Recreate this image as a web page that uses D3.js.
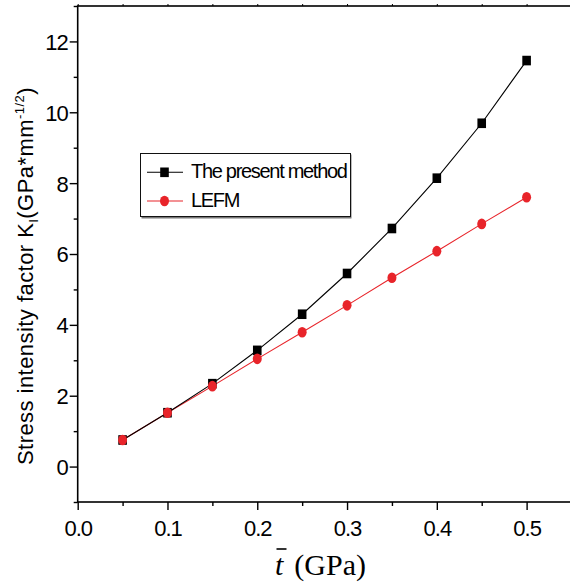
<!DOCTYPE html>
<html>
<head>
<meta charset="utf-8">
<script src="https://cdn.jsdelivr.net/npm/d3@7"></script>
<style>
  html, body { margin: 0; padding: 0; background: #fff; }
  svg { display: block; }
</style>
</head>
<body>
<svg id="chart" width="570" height="587"></svg>
<script>
// Applied load t̄ (GPa)
const loads = [0.05, 0.10, 0.15, 0.20, 0.25, 0.30, 0.35, 0.40, 0.45, 0.50];
// Stress intensity factor K_I from the present method
const presentMethod = [0.75, 1.52, 2.34, 3.28, 4.30, 5.45, 6.72, 8.14, 9.69, 11.46];
// Stress intensity factor K_I from LEFM
const lefm = [0.75, 1.52, 2.27, 3.04, 3.79, 4.55, 5.33, 6.08, 6.85, 7.60];

const xTicks = [0.0, 0.1, 0.2, 0.3, 0.4, 0.5];
const yTicks = [0, 2, 4, 6, 8, 10, 12];
const seriesNames = ["The present method", "LEFM"];

const svg = d3.select("#chart");
const plotLeft = 77.7, plotRight = 571.5, plotTop = 6, plotBottom = 502;

const x = d3.scaleLinear().domain([0, 0.55]).range([plotLeft, plotRight]);
const y = d3.scaleLinear().domain([-1, 13]).range([plotBottom, plotTop]);

const tickFont = "Liberation Sans, Arial, sans-serif";

// Frame
svg.append("rect")
  .attr("x", plotLeft).attr("y", plotTop)
  .attr("width", plotRight - plotLeft).attr("height", plotBottom - plotTop)
  .attr("fill", "none").attr("stroke", "#000").attr("stroke-width", 1.6);

// Bottom axis: major ticks with labels, minor ticks between
const xMinor = d3.range(0.05, 0.55, 0.1);
const xAxis = d3.axisBottom(x).tickValues(xTicks).tickFormat(d3.format(".1f")).tickSize(8).tickSizeOuter(0);
const gx = svg.append("g").attr("transform", `translate(0,${plotBottom})`).call(xAxis);
gx.select(".domain").remove();
gx.selectAll(".tick line").attr("stroke-width", 1.4);
gx.selectAll(".tick text")
  .attr("font-family", tickFont).attr("font-size", 22).attr("letter-spacing", -1)
  .attr("fill", "#000").attr("dy", "1.05em");
svg.append("g").attr("transform", `translate(0,${plotBottom})`)
  .call(d3.axisBottom(x).tickValues(xMinor).tickSize(4).tickFormat(""))
  .call(g => g.select(".domain").remove())
  .selectAll(".tick line").attr("stroke-width", 1.4);

// Top axis: small marks only
svg.append("g").attr("transform", `translate(0,${plotTop})`)
  .call(d3.axisTop(x).tickValues(xTicks.concat(xMinor)).tickSize(2).tickFormat(""))
  .call(g => g.select(".domain").remove())
  .selectAll(".tick line").attr("stroke-width", 1);

// Left axis
const yMinor = d3.range(-1, 13.5, 2);
const yAxis = d3.axisLeft(y).tickValues(yTicks).tickFormat(d3.format("d")).tickSize(8).tickSizeOuter(0);
const gy = svg.append("g").attr("transform", `translate(${plotLeft},0)`).call(yAxis);
gy.select(".domain").remove();
gy.selectAll(".tick line").attr("stroke-width", 1.4);
gy.selectAll(".tick text")
  .attr("font-family", tickFont).attr("font-size", 22).attr("letter-spacing", -1)
  .attr("fill", "#000").attr("x", -10).attr("dy", "0.36em");
svg.append("g").attr("transform", `translate(${plotLeft},0)`)
  .call(d3.axisLeft(y).tickValues(yMinor).tickSize(4).tickFormat(""))
  .call(g => g.select(".domain").remove())
  .selectAll(".tick line").attr("stroke-width", 1.4);

// Series lines and markers
const line = d3.line().x((d, i) => x(loads[i])).y(d => y(d));

svg.append("path").datum(lefm)
  .attr("d", line).attr("fill", "none").attr("stroke", "#e8242a").attr("stroke-width", 1.1);
svg.append("path").datum(presentMethod)
  .attr("d", line).attr("fill", "none").attr("stroke", "#000").attr("stroke-width", 1.1);

svg.append("g").selectAll("rect").data(presentMethod).join("rect")
  .attr("x", (d, i) => x(loads[i]) - 4.3).attr("y", d => y(d) - 4.8)
  .attr("width", 8.6).attr("height", 9.6).attr("fill", "#000");

svg.append("g").selectAll("ellipse").data(lefm).join("ellipse")
  .attr("cx", (d, i) => x(loads[i])).attr("cy", d => y(d))
  .attr("rx", 4.5).attr("ry", 5.3).attr("fill", "#e8242a");

// Legend
const lg = svg.append("g");
lg.append("rect").attr("x", 141.5).attr("y", 154.5).attr("width", 210).attr("height", 64)
  .attr("fill", "#777");
lg.append("rect").attr("x", 140.5).attr("y", 153.5).attr("width", 210).attr("height", 63)
  .attr("fill", "#fff").attr("stroke", "#111").attr("stroke-width", 1);

const legendRows = [
  { name: seriesNames[0], color: "#000", marker: "square", y: 172.3 },
  { name: seriesNames[1], color: "#e8242a", marker: "circle", y: 201 }
];
legendRows.forEach(r => {
  lg.append("line").attr("x1", 147).attr("x2", 183).attr("y1", r.y).attr("y2", r.y)
    .attr("stroke", r.color).attr("stroke-width", 1.1);
  if (r.marker === "square") {
    lg.append("rect").attr("x", 164.5 - 4.3).attr("y", r.y - 4.8).attr("width", 8.6).attr("height", 9.6).attr("fill", r.color);
  } else {
    lg.append("ellipse").attr("cx", 164.5).attr("cy", r.y).attr("rx", 4.5).attr("ry", 5.3).attr("fill", r.color);
  }
  lg.append("text").attr("x", 191).attr("y", r.y + 5.5)
    .attr("font-family", tickFont).attr("font-size", 20).attr("letter-spacing", -1.3)
    .attr("fill", "#000").text(r.name);
});

// Y axis title
const yt = svg.append("text")
  .attr("transform", "translate(32.5,276) rotate(-90)")
  .attr("text-anchor", "middle")
  .attr("font-family", tickFont).attr("font-size", 22).attr("letter-spacing", 0.45).attr("fill", "#000");
yt.append("tspan").text("Stress intensity factor K");
yt.append("tspan").attr("font-size", 13).attr("dy", 5).text("I");
yt.append("tspan").attr("dy", -5).text("(GPa*mm");
yt.append("tspan").attr("font-size", 13).attr("dy", -9).text("-1/2");
yt.append("tspan").attr("dy", 9).text(")");

// X axis title: t̄ (GPa)
const xt = svg.append("text")
  .attr("x", 275).attr("y", 575)
  .attr("font-family", "Liberation Serif, Times New Roman, serif").attr("font-size", 30).attr("fill", "#000");
xt.append("tspan").attr("font-style", "italic").text("t");
xt.append("tspan").attr("dx", 11).text("(GPa)");
svg.append("line").attr("x1", 276.5).attr("x2", 286.5).attr("y1", 549).attr("y2", 549)
  .attr("stroke", "#000").attr("stroke-width", 1.6);
</script>
</body>
</html>
